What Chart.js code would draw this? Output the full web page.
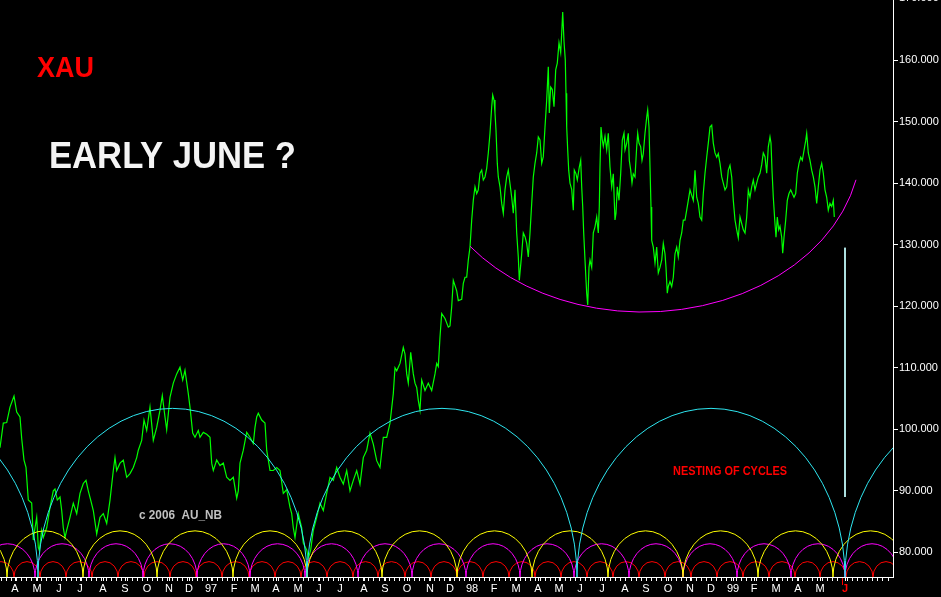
<!DOCTYPE html>
<html lang="en">
<head>
    <meta charset="UTF-8">
    <title>XAU cycles</title>
    <script src="https://cdn.jsdelivr.net/npm/chart.js"></script>
    <style>
        html, body {
            margin: 0;
            padding: 0;
            background: #000;
            overflow: hidden;
        }
        #wrap {
            width: 941px;
            height: 597px;
        }
    </style>
</head>
<body>
    <div id="wrap"><canvas id="xau" width="941" height="597"></canvas></div>
    <script>
        // price line: session number from chart start, close value
        const bars1 = [0, 3.3, 6.7, 10, 14, 16.7, 20, 21.7, 24, 26, 28.3, 31.7, 33.3, 35, 36.7, 38.3, 39.3, 41.7, 43.3, 46.7, 50, 53.3, 55, 57.3, 60, 61.7, 63.3, 65, 66.7, 70, 73.3, 76.7, 80, 83.3, 86, 88.3, 90.7, 93.3, 96.7, 100, 103.3, 106.7, 110, 113.3, 115, 116.7, 120, 123.3, 126.7, 130, 133.3, 136.7, 138.3, 141.7, 144, 146.7, 150, 153.3, 156.7, 160, 162.3, 165, 166.7, 170, 173.3, 176.7, 180, 182.7, 185, 188.3, 190, 192.7, 195, 198.3, 200];
        const close1 = [97.0, 101.0, 101.1, 103.6, 105.4, 102.8, 102.0, 98.5, 95.0, 93.8, 88.5, 88.0, 82.0, 84.0, 85.7, 80.8, 80.3, 83.6, 82.4, 84.0, 87.3, 90.0, 90.3, 88.5, 89.0, 86.8, 84.0, 82.4, 83.6, 85.7, 88.0, 86.3, 89.6, 91.2, 91.7, 90.0, 88.5, 86.8, 83.0, 85.7, 86.3, 84.7, 88.5, 93.3, 95.4, 93.3, 94.5, 95.0, 92.2, 92.8, 93.8, 95.4, 96.6, 98.2, 101.5, 99.8, 103.6, 98.2, 100.3, 103.1, 105.5, 102.0, 99.9, 105.2, 107.5, 109.0, 110.1, 108.0, 109.6, 105.8, 103.6, 99.4, 98.7, 99.8, 98.7];
        const bars2 = [203.3, 206.7, 210, 211.7, 213.3, 216.7, 220, 223.3, 226.7, 230, 233.3, 236.7, 238.3, 240, 243.3, 246.7, 250, 253.3, 255, 256.7, 258.3, 261.7, 265, 266.7, 270, 273.3, 276.7, 280, 283.3, 286.7, 290, 291.7, 293.3, 295, 298.3, 301.7, 303.3, 306.7, 308.3, 310.7, 313.3, 316.7, 320, 323.3, 326.7, 330, 333.3, 336.7, 340, 343.3, 346.7, 350, 353.3, 356.7, 360, 363.3, 366.7, 370, 373.3, 376.7, 380, 383.3, 386.7, 390];
        const close2 = [99.5, 99.2, 98.7, 94.5, 93.3, 95.0, 94.1, 94.5, 92.2, 91.7, 92.2, 88.8, 90.0, 94.5, 96.6, 99.5, 98.7, 97.7, 100.3, 102.0, 102.6, 101.5, 101.0, 96.6, 93.3, 93.3, 93.8, 93.3, 89.6, 90.2, 87.3, 86.3, 84.0, 82.4, 86.3, 84.0, 81.5, 80.4, 79.0, 80.4, 83.6, 85.7, 88.0, 86.8, 89.6, 92.2, 91.7, 93.8, 92.2, 91.1, 93.3, 90.0, 91.7, 93.3, 91.1, 95.4, 96.6, 99.4, 97.6, 94.9, 93.8, 98.7, 98.7, 101.0];
        const bars3 = [393.3, 395, 396.7, 400, 403.3, 405, 406.7, 408.3, 410.7, 413.3, 415, 416.7, 418.3, 420, 421.7, 425, 428.3, 431.7, 435, 436.7, 438.3, 440, 441.7, 445, 448.3, 450, 451.7, 453.3, 456.7, 458.3, 461.7, 463.3, 465, 466.7, 468.3, 470, 471.7, 473.3, 475, 476.7, 478.3, 480, 481.7, 483.3, 485, 486.7, 488.3, 490, 491.7, 492.7, 494, 495, 496, 497.3, 498.3, 500, 501.7, 503.3, 505, 506.7, 508.3, 510, 511.7, 513.3, 515, 516.7, 518.3, 519.3, 521.7, 523.3, 525, 526.7, 528.3, 530, 531.7, 533.3, 535, 536.7, 538.3];
        const close3 = [105.8, 110.0, 109.5, 110.7, 113.3, 112.2, 109.0, 107.5, 112.5, 109.0, 107.5, 106.8, 104.7, 103.1, 108.0, 106.3, 107.5, 106.3, 109.0, 110.7, 110.2, 115.0, 118.8, 118.0, 116.6, 116.8, 119.9, 124.2, 122.5, 120.9, 121.1, 123.7, 124.7, 124.7, 127.5, 129.6, 134.0, 137.2, 139.4, 138.3, 138.9, 141.6, 142.1, 140.5, 141.0, 142.4, 144.9, 148.1, 152.4, 154.3, 153.5, 151.4, 148.6, 143.2, 141.0, 139.4, 136.7, 135.1, 138.9, 141.0, 142.1, 139.9, 137.7, 135.1, 138.9, 131.9, 128.0, 124.2, 128.5, 131.9, 131.3, 130.2, 128.0, 131.9, 136.7, 141.0, 143.2, 144.9, 147.5];
        const bars4 = [540, 541.7, 543.3, 545, 546.7, 548.3, 549.3, 550.7, 552.3, 554, 555.7, 557.3, 559, 560.7, 561.7, 562.7, 564, 565.3, 566, 566.7, 567.7, 568.7, 570, 571.7, 573.3, 574.3, 576, 577.3, 579.3, 580.7, 581.7, 582.7, 583.7, 585, 586.7, 587.7, 589, 590, 591.7, 593.3, 595, 596.7, 598.3, 599.3, 600, 601, 602.3, 603.3, 605, 606.7, 608.3, 610, 611.7, 613.3, 615, 616, 617.3, 619, 620.7, 622.3, 624, 625, 626.7, 628.3, 629.3, 630.7, 632, 633.3, 635, 636.7, 637.7, 639, 640.7, 642, 643.3, 645, 646.7, 647.7, 649, 650, 651, 651.7, 653.3, 655, 656.7, 658.3, 660, 661.7, 663.3, 665, 666, 667.3, 668.3, 670, 671.7, 673.3, 675, 676.7, 678.3, 680, 681.7, 683.3, 685, 686.7, 688.3, 690];
        const close4 = [147.0, 143.2, 144.3, 149.1, 153.5, 158.9, 151.4, 155.6, 155.2, 152.4, 158.4, 159.5, 162.8, 161.2, 164.4, 167.8, 163.0, 160.0, 154.6, 149.1, 145.4, 142.1, 140.0, 139.0, 135.6, 142.1, 141.5, 140.5, 142.6, 143.7, 139.4, 136.2, 131.9, 127.5, 122.1, 120.2, 126.3, 127.5, 126.3, 131.9, 132.9, 134.5, 131.9, 136.2, 142.6, 149.1, 147.0, 146.0, 147.6, 145.4, 148.1, 142.6, 139.4, 141.5, 134.0, 135.1, 139.4, 137.2, 141.6, 147.0, 148.1, 145.4, 146.5, 148.1, 143.7, 142.1, 140.0, 141.5, 141.0, 145.9, 148.1, 146.5, 145.9, 143.7, 144.8, 148.1, 150.7, 151.9, 149.1, 142.6, 136.1, 130.7, 129.6, 127.0, 129.6, 125.4, 126.3, 127.5, 130.2, 128.5, 126.3, 122.1, 123.2, 124.0, 123.2, 124.7, 128.5, 129.6, 128.0, 130.7, 131.9, 134.0, 134.0, 135.6, 137.2, 138.9];
        const bars5 = [693.3, 695, 696.7, 698.3, 700, 701.7, 703.3, 705, 706.7, 708.3, 710, 711.7, 713.3, 715, 716.7, 718.3, 720, 721.7, 723.3, 725, 726.7, 728.3, 730, 731.7, 733.3, 735, 736.7, 738.3, 740, 741.7, 743.3, 745, 746.7, 748.3, 750, 751.7, 753.3, 755, 756.7, 758.3, 760, 761.7, 763.3, 765, 766.7, 768.3, 770, 771, 772, 773.3, 775, 776, 777.3, 778.7, 780, 781.7, 782.7, 784, 785.7, 787.3, 789, 790.7, 792.3, 794, 795.7, 797.3, 799, 800.7, 802.3, 804, 805.7, 806.7, 808.3, 810, 811.7, 813.3, 815, 816.7, 818.3, 820, 821.7, 823.3, 825, 826.7, 828.3, 830, 831.7, 833.3, 834.3];
        const close5 = [137.2, 142.1, 137.7, 136.7, 134.5, 134.0, 138.3, 141.6, 144.2, 146.5, 149.1, 149.4, 146.5, 144.9, 144.2, 144.8, 143.2, 141.0, 140.0, 138.9, 139.4, 142.1, 142.9, 141.0, 137.2, 134.0, 132.4, 131.1, 134.5, 133.4, 132.4, 131.9, 134.5, 138.9, 137.7, 139.4, 140.5, 138.9, 140.0, 141.0, 141.6, 143.0, 144.9, 144.3, 141.6, 145.9, 147.5, 146.5, 142.1, 137.7, 133.4, 131.2, 134.5, 132.4, 133.0, 131.2, 128.6, 131.2, 134.0, 137.2, 138.3, 138.9, 138.3, 137.7, 138.3, 141.6, 143.2, 144.2, 143.7, 145.3, 146.9, 148.1, 144.9, 143.7, 142.1, 141.0, 139.4, 136.7, 139.4, 142.1, 143.2, 141.6, 138.9, 137.7, 135.6, 136.7, 136.2, 137.2, 134.5];

        // month starts (session number) and their labels
        const monthBars = [15, 37, 59, 80, 103, 125, 147, 169, 189, 211, 234, 255, 276, 298, 319, 340, 364, 385, 407, 430, 450, 472, 494, 516, 538, 559, 580, 602, 625, 646, 668, 690, 711, 733, 754, 776, 798, 820, 845];
        const monthLabels = ['A', 'M', 'J', 'J', 'A', 'S', 'O', 'N', 'D', '97', 'F', 'M', 'A', 'M', 'J', 'J', 'A', 'S', 'O', 'N', 'D', '98', 'F', 'M', 'A', 'M', 'J', 'J', 'A', 'S', 'O', 'N', 'D', '99', 'F', 'M', 'A', 'M', 'J'];
        const forecastBar = 845;
        const yTicks = [80, 90, 100, 110, 120, 130, 140, 150, 160, 170];

        // cycle troughs (session number) and arc heights
        const cyanTroughs = [-231, 38, 307, 577, 845, 1114];
        const yellowTroughs = [-68, 7, 83, 157, 233, 307, 382, 457, 532, 608, 683, 758, 833, 908];
        const magentaTroughs = [-20, 35, 89, 143, 197, 250, 305, 358, 412, 466, 520, 574, 629, 683, 737, 791, 845, 899];
        const redTroughs = [-12, 14, 40, 66, 92, 118, 144, 170, 196, 222, 249, 275, 301, 327, 353, 378, 405, 431, 457, 483, 509, 535, 561, 587, 613, 639, 665, 691, 717, 743, 769, 795, 820, 846, 873, 899];
        const cycleTops = [103.4, 83.5, 81.4, 78.5];
        const cycleBase = 76;

        // the bowl under the 1998-99 range
        const bowlEnds = [470, 856];
        const bowlMid = 643;
        const bowlHalfWidth = 218;
        const bowlLow = 119.05;
        const bowlCentre = 146.35;

        // projection marker
        const markerBar = [845, 845];
        const markerVal = [129.5, 89.0];

        const allBars = [].concat(bars1, bars2, bars3, bars4, bars5);
        const allClose = [].concat(close1, close2, close3, close4, close5);
        const pricePts = [];
        for (let i = 0; i < Math.min(allBars.length, allClose.length); i++) {
            pricePts.push({ x: allBars[i], y: allClose[i] });
        }

        const FONT = '"Liberation Sans", Arial, sans-serif';

        const cyclePlugin = {
            id: 'cycles',
            afterDatasetsDraw(chart) {
                const { ctx, chartArea: a, scales: { x, y } } = chart;
                const base = y.getPixelForValue(cycleBase);
                const sets = [
                    [cyanTroughs, cycleTops[0], '#2ee6f0'],
                    [yellowTroughs, cycleTops[1], '#ffff00'],
                    [magentaTroughs, cycleTops[2], '#ff00ff'],
                    [redTroughs, cycleTops[3], '#ff0000']
                ];
                ctx.save();
                ctx.beginPath();
                ctx.rect(a.left, a.top, a.right - a.left, a.bottom - a.top);
                ctx.clip();
                ctx.lineWidth = 1;
                sets.slice().reverse().forEach(([tr, top, col]) => {
                    ctx.strokeStyle = col;
                    const ry = base - y.getPixelForValue(top);
                    for (let i = 0; i < tr.length - 1; i++) {
                        const p0 = x.getPixelForValue(tr[i]);
                        const p1 = x.getPixelForValue(tr[i + 1]);
                        ctx.beginPath();
                        ctx.ellipse((p0 + p1) / 2, base, (p1 - p0) / 2, ry, 0, Math.PI, 2 * Math.PI);
                        ctx.stroke();
                    }
                });
                // bowl
                const cx = x.getPixelForValue(bowlMid);
                const rx = x.getPixelForValue(bowlMid + bowlHalfWidth) - cx;
                const cy = y.getPixelForValue(bowlCentre);
                const ryB = y.getPixelForValue(bowlLow) - cy;
                const t0 = Math.acos((x.getPixelForValue(bowlEnds[1]) - cx) / rx);
                const t1 = Math.acos((x.getPixelForValue(bowlEnds[0]) - cx) / rx);
                ctx.strokeStyle = '#ff00ff';
                ctx.beginPath();
                ctx.ellipse(cx, cy, rx, ryB, 0, t0, t1);
                ctx.stroke();
                ctx.restore();
            },
            afterDraw(chart) {
                const { ctx, chartArea: a, scales: { x } } = chart;
                ctx.save();
                // red mark for the projected month
                const fx = Math.round(x.getPixelForValue(forecastBar - 3.5)) + 0.5;
                ctx.strokeStyle = '#ff0000';
                ctx.beginPath();
                ctx.moveTo(fx, a.bottom + 1);
                ctx.lineTo(fx, a.bottom + 8);
                ctx.stroke();

                ctx.textBaseline = 'alphabetic';
                ctx.fillStyle = '#ff0000';
                ctx.font = 'bold 29px ' + FONT;
                ctx.fillText('XAU', 37, 77, 57);

                ctx.fillStyle = '#f4f4f4';
                ctx.font = 'bold 36px ' + FONT;
                ctx.fillText('EARLY JUNE ?', 49, 168, 247);

                ctx.fillStyle = '#c0c0c0';
                ctx.font = 'bold 12px ' + FONT;
                ctx.fillText('c 2006  AU_NB', 139, 519, 83);

                ctx.fillStyle = '#ff0000';
                ctx.font = 'bold 13px ' + FONT;
                ctx.fillText('NESTING OF CYCLES', 673, 475, 114);
                ctx.restore();
            }
        };

        new Chart(document.getElementById('xau'), {
            type: 'line',
            data: {
                datasets: [{
                    data: pricePts,
                    borderColor: '#00ff00',
                    borderWidth: 1.2,
                    pointRadius: 0,
                    tension: 0
                }, {
                    data: markerBar.map((b, i) => ({ x: b, y: markerVal[i] })),
                    borderColor: '#c4ffff',
                    borderWidth: 1,
                    pointRadius: 0
                }]
            },
            options: {
                responsive: false,
                animation: false,
                layout: { padding: 0 },
                plugins: {
                    legend: { display: false },
                    tooltip: { enabled: false }
                },
                scales: {
                    x: {
                        type: 'linear',
                        position: 'bottom',
                        min: 0,
                        max: 893,
                        afterBuildTicks: (s) => {
                            const t = [];
                            for (let v = 1; v < 893; v += 5.04) t.push({ value: v });
                            monthBars.forEach(v => t.push({ value: v }));
                            t.sort((p, q) => p.value - q.value);
                            s.ticks = t;
                        },
                        afterFit: (s) => {
                            s.height = 20;
                            s.paddingLeft = 0;
                            s.paddingRight = 0;
                        },
                        ticks: {
                            autoSkip: false,
                            maxRotation: 0,
                            padding: 1,
                            color: (c) => (c.tick && c.tick.value === forecastBar ? '#ff0000' : '#ffffff'),
                            font: (c) => ({ family: FONT, size: 11, weight: c.tick && c.tick.value === forecastBar ? 'bold' : 'normal' }),
                            callback: (v) => {
                                const i = monthBars.indexOf(v);
                                return i < 0 ? '' : monthLabels[i];
                            }
                        },
                        grid: { drawOnChartArea: false, color: '#ffffff', tickLength: 4 },
                        border: { color: '#ffffff', width: 1 }
                    },
                    y: {
                        type: 'linear',
                        position: 'right',
                        min: 76,
                        max: 169.75,
                        afterBuildTicks: (s) => {
                            s.ticks = yTicks.map(v => ({ value: v }));
                        },
                        afterFit: (s) => {
                            s.width = 48;
                            s.paddingTop = 0;
                            s.paddingBottom = 0;
                        },
                        ticks: {
                            color: '#ffffff',
                            padding: 1,
                            font: { family: FONT, size: 11 },
                            callback: (v) => v.toFixed(3)
                        },
                        grid: { drawOnChartArea: false, color: '#ffffff', tickLength: 5 },
                        border: { color: '#ffffff', width: 1 }
                    }
                }
            },
            plugins: [cyclePlugin]
        });
    </script>
</body>
</html>
